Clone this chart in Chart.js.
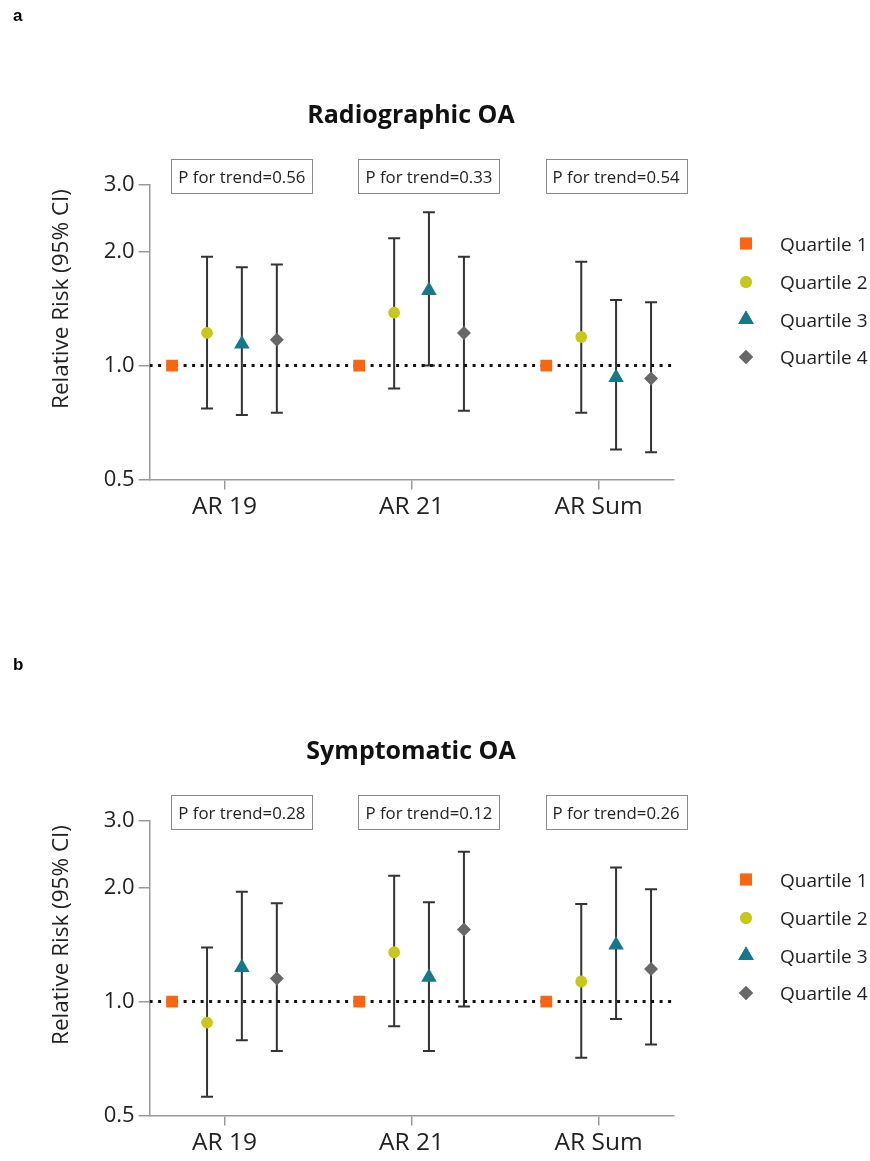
<!DOCTYPE html>
<html>
<head>
<meta charset="utf-8">
<script src="https://cdn.jsdelivr.net/npm/chart.js"></script>
<style>
  body { margin: 0; width: 870px; height: 1161px; overflow: hidden; background: #fff; position: relative; }
  canvas { position: absolute; left: 0; }
  #chartA { top: 0; }
  #chartB { top: 635.5px; }
</style>
</head>
<body>
<canvas id="chartA" width="870" height="600"></canvas>
<canvas id="chartB" width="870" height="600"></canvas>
<script>
const groups = ['AR 19', 'AR 21', 'AR Sum'];
const quartiles = ['Quartile 1', 'Quartile 2', 'Quartile 3', 'Quartile 4'];
const yTicks = [0.5, 1.0, 2.0, 3.0];

// Radiographic OA: relative risk and 95% CI, one row per quartile
const radioRR = [[1, 1, 1], [1.22, 1.38, 1.19], [1.14, 1.58, 0.93], [1.17, 1.22, 0.925]];
const radioLo = [[null, null, null], [0.77, 0.87, 0.75], [0.74, 1.00, 0.60], [0.75, 0.76, 0.59]];
const radioHi = [[null, null, null], [1.94, 2.17, 1.88], [1.82, 2.54, 1.49], [1.85, 1.94, 1.47]];
const radioP = ['0.56', '0.33', '0.54'];

// Symptomatic OA
const sympRR = [[1, 1, 1], [0.88, 1.35, 1.13], [1.23, 1.16, 1.41], [1.15, 1.55, 1.22]];
const sympLo = [[null, null, null], [0.56, 0.86, 0.71], [0.79, 0.74, 0.90], [0.74, 0.97, 0.77]];
const sympHi = [[null, null, null], [1.39, 2.15, 1.81], [1.95, 1.83, 2.26], [1.82, 2.49, 1.98]];
const sympP = ['0.28', '0.12', '0.26'];

const xOffsets = [-0.28, -0.093, 0.093, 0.28];
const marks = [
  { shape: 'rect', r: 8.3, color: '#FB6512' },
  { shape: 'circle', r: 5.9, color: '#C8C81A' },
  { shape: 'triangle', r: 9, color: '#15798A' },
  { shape: 'rectRot', r: 7, color: '#686868' }
];
const FONT = "'Open Sans', 'DejaVu Sans', sans-serif";

function drawMark(ctx, m, x, y) {
  ctx.save();
  ctx.fillStyle = m.color;
  if (Chart.helpers && Chart.helpers.drawPoint) {
    Chart.helpers.drawPoint(ctx, { pointStyle: m.shape, radius: m.r, borderWidth: 0, rotation: 0 }, x, y);
    ctx.fill();
  } else {
    ctx.beginPath();
    ctx.arc(x, y, m.r, 0, Math.PI * 2);
    ctx.fill();
  }
  ctx.restore();
}

const errorBars = {
  id: 'errorBars',
  beforeDatasetsDraw(chart) {
    const ctx = chart.ctx, ys = chart.scales.y, xs = chart.scales.x;
    ctx.save();
    ctx.strokeStyle = '#333';
    ctx.lineWidth = 2;
    chart.data.datasets.forEach(ds => {
      if (!ds.lo) return;
      ds.data.forEach((p, i) => {
        if (ds.lo[i] == null) return;
        const x = xs.getPixelForValue(p.x);
        const y1 = ys.getPixelForValue(ds.lo[i]);
        const y2 = ys.getPixelForValue(ds.hi[i]);
        ctx.beginPath();
        ctx.moveTo(x, y1); ctx.lineTo(x, y2);
        ctx.moveTo(x - 6, y1); ctx.lineTo(x + 6, y1);
        ctx.moveTo(x - 6, y2); ctx.lineTo(x + 6, y2);
        ctx.stroke();
      });
    });
    ctx.restore();
  }
};

const decorations = {
  id: 'decorations',
  afterDraw(chart) {
    const o = chart.options.plugins.decorations;
    const ctx = chart.ctx, xs = chart.scales.x, top = chart.chartArea.top;
    ctx.save();
    // panel letter
    ctx.fillStyle = '#000';
    ctx.font = "bold 17px 'Liberation Sans', Arial, sans-serif";
    ctx.textAlign = 'left';
    ctx.textBaseline = 'alphabetic';
    ctx.fillText(o.letter, 13, o.letterY);
    // title
    ctx.font = 'bold 25px ' + FONT;
    ctx.textAlign = 'center';
    ctx.fillStyle = '#111';
    ctx.fillText(o.title, 411, top - 62);
    // y axis title
    ctx.save();
    ctx.translate(68, top + 114);
    ctx.rotate(-Math.PI / 2);
    ctx.font = '22.5px ' + FONT;
    ctx.fillStyle = '#222';
    ctx.fillText('Relative Risk (95% CI)', 0, 0);
    ctx.restore();
    // P for trend boxes
    ctx.font = '16.8px ' + FONT;
    o.pvals.forEach((p, i) => {
      const cx = xs.getPixelForValue(i + 0.093);
      ctx.strokeStyle = '#8a8a8a';
      ctx.lineWidth = 1;
      ctx.strokeRect(Math.round(cx - 70.5) + 0.5, top - 26 + 0.5, 141, 34);
      ctx.fillStyle = '#222';
      ctx.fillText('P for trend=' + p, cx, top - 2.5);
    });
    // legend
    ctx.textAlign = 'left';
    ctx.font = '19px ' + FONT;
    const rows = [58.5, 97, 134.5, 172];
    quartiles.forEach((q, k) => {
      const y = top + rows[k];
      drawMark(ctx, marks[k], 746, y);
      ctx.fillStyle = '#222';
      ctx.fillText(q, 780, y + 7);
    });
    ctx.restore();
  }
};

function makePanel(id, rr, lo, hi, pvals, title, letter, letterY) {
  const datasets = quartiles.map((q, k) => ({
    label: q,
    data: groups.map((g, i) => ({ x: i + xOffsets[k], y: rr[k][i] })),
    lo: lo[k],
    hi: hi[k],
    pointStyle: marks[k].shape,
    pointRadius: marks[k].r,
    pointHoverRadius: marks[k].r,
    backgroundColor: marks[k].color,
    borderColor: marks[k].color,
    borderWidth: 0,
    order: 1
  }));
  datasets.push({
    type: 'line',
    label: 'reference',
    data: [{ x: -0.4, y: 1 }, { x: 2.4, y: 1 }],
    borderColor: '#111',
    borderWidth: 3,
    borderDash: [3, 5.5],
    pointRadius: 0,
    order: 5
  });

  new Chart(document.getElementById(id), {
    type: 'scatter',
    data: { datasets: datasets },
    options: {
      responsive: false,
      animation: false,
      devicePixelRatio: 1,
      layout: { padding: { left: 0, top: 185, right: 196.5, bottom: 0 } },
      plugins: {
        legend: { display: false },
        tooltip: { enabled: false },
        decorations: { pvals: pvals, title: title, letter: letter, letterY: letterY }
      },
      scales: {
        x: {
          type: 'linear',
          min: -0.4,
          max: 2.4,
          afterBuildTicks: s => { s.ticks = groups.map((g, i) => ({ value: i })); },
          afterFit: s => { s.height = 120.5; },
          ticks: {
            callback: v => groups[v],
            font: { family: FONT, size: 24.5 },
            color: '#222',
            padding: 3
          },
          grid: { drawOnChartArea: false, tickLength: 10, color: '#9a9a9a', lineWidth: 1.5 },
          border: { color: '#9a9a9a', width: 1.5 }
        },
        y: {
          type: 'logarithmic',
          min: 0.5,
          max: 3.0,
          afterBuildTicks: s => { s.ticks = yTicks.map(v => ({ value: v })); },
          afterFit: s => { s.width = 149.6; },
          ticks: {
            callback: v => Number(v).toFixed(1),
            font: { family: FONT, size: 22 },
            color: '#222',
            padding: 4
          },
          grid: { drawOnChartArea: false, tickLength: 11, color: '#9a9a9a', lineWidth: 1.5 },
          border: { color: '#9a9a9a', width: 1.5 }
        }
      }
    },
    plugins: [errorBars, decorations]
  });
}

makePanel('chartA', radioRR, radioLo, radioHi, radioP, 'Radiographic OA', 'a', 21);
makePanel('chartB', sympRR, sympLo, sympHi, sympP, 'Symptomatic OA', 'b', 33.5);
</script>
</body>
</html>
